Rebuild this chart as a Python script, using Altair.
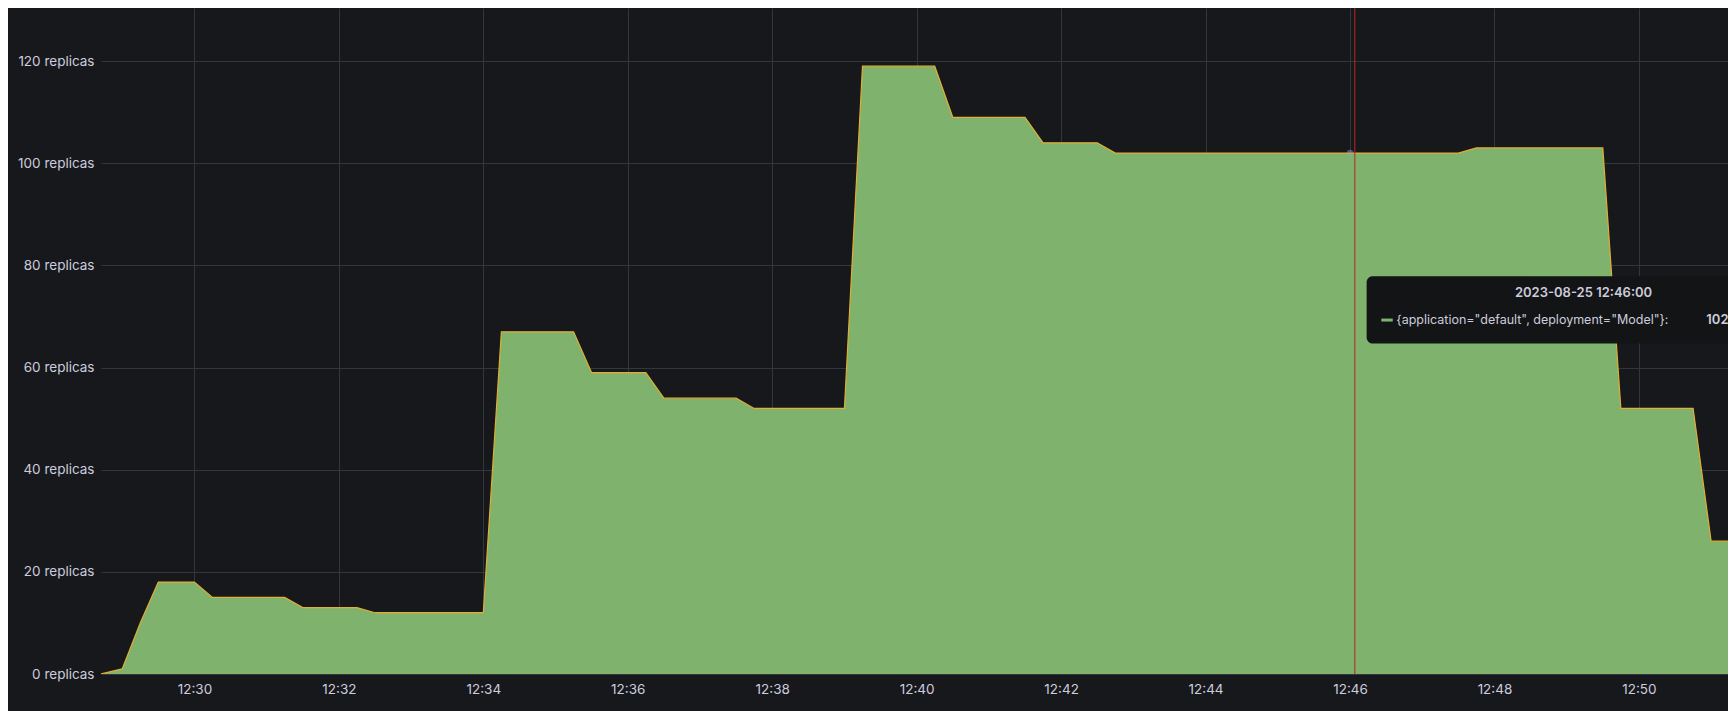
import altair as alt
import pandas as pd

DAY = "2023-08-25T"

# series: time of sample and replica count
times = [
    "12:28:42", "12:29:00", "12:29:15", "12:29:30", "12:30:00", "12:30:15",
    "12:31:15", "12:31:30", "12:32:15", "12:32:30", "12:34:00", "12:34:15",
    "12:35:15", "12:35:30", "12:36:15", "12:36:30", "12:37:30", "12:37:45",
    "12:39:00", "12:39:15", "12:40:15", "12:40:30", "12:41:30", "12:41:45",
    "12:42:30", "12:42:45", "12:47:30", "12:47:45", "12:49:30", "12:49:45",
    "12:50:45", "12:51:00", "12:51:21",
]
replicas = [
    0, 1, 10, 18, 18, 15,
    15, 13, 13, 12, 12, 67,
    67, 59, 59, 54, 54, 52,
    52, 119, 119, 109, 109, 104,
    104, 102, 102, 103, 103, 52,
    52, 26, 26,
]

y_ticks = [0, 20, 40, 60, 80, 100, 120]
x_tick_minutes = [30, 32, 34, 36, 38, 40, 42, 44, 46, 48, 50]

# hover / tooltip annotation
hover_time = "12:46:04"
point_time = "12:46:00"
point_value = 102
tooltip_title = "2023-08-25 12:46:00"
tooltip_series = '{application="default", deployment="Model"}:'
tooltip_value = "102"


def ts(s):
    return DAY + s + "Z"


def dt(h, m, s=0, ms=0):
    return alt.DateTime(year=2023, month=8, date=25, hours=h, minutes=m,
                        seconds=s, milliseconds=ms, utc=True)


df = pd.DataFrame({"t": [ts(s) for s in times], "v": replicas})

x_scale = alt.Scale(type="utc", domain=[dt(12, 28, 42, 400), dt(12, 51, 14, 0)], nice=False)
y_scale = alt.Scale(domain=[0, 130.4], nice=False, zero=True)

x_axis = alt.Axis(
    title=None,
    format="%H:%M",
    formatType="utc",
    values=[dt(12, m) for m in x_tick_minutes],
    labelFlush=False,
    labelOverlap=False,
    ticks=False,
    domain=False,
    labelPadding=8,
    labelBaseline="top",
)
y_axis = alt.Axis(
    title=None,
    values=y_ticks,
    labelExpr="datum.value + ' replicas'",
    ticks=False,
    domain=False,
    labelPadding=7,
)

X = alt.X("t:T", scale=x_scale, axis=x_axis)
Y = alt.Y("v:Q", scale=y_scale, axis=y_axis)

GREEN = "#7EB26D"
LINE = "#E2AE34"
TEXT = "#ccccdc"

area = alt.Chart(df).mark_area(color=GREEN, opacity=1, clip=True).encode(x=X, y=Y)
line = alt.Chart(df).mark_line(color=LINE, strokeWidth=1.2, clip=True).encode(x=X, y=Y)

cross = alt.Chart(pd.DataFrame({"t": [ts(hover_time)]})).mark_rule(
    color="#b8271f", strokeWidth=1
).encode(x="t:T")

hover_pt = alt.Chart(pd.DataFrame({"t": [ts(point_time)], "v": [point_value]})).mark_point(
    filled=True, color="#9aa3ad", opacity=0.45, size=45
).encode(x="t:T", y="v:Q")

tip_box = alt.Chart(
    pd.DataFrame({"t": [ts("12:46:13.800")], "t2": [ts("12:52:30")], "v": [64.7], "v2": [77.9]})
).mark_rect(color="#131416", cornerRadius=6, clip=True).encode(
    x="t:T", x2="t2:T", y="v:Q", y2="v2:Q"
)

tip_title = alt.Chart(
    pd.DataFrame({"t": [ts("12:49:14")], "v": [74.6], "s": [tooltip_title]})
).mark_text(
    font="Inter", fontSize=13, fontWeight=600, color=TEXT, align="center", baseline="middle", clip=True
).encode(x="t:T", y="v:Q", text="s:N")

tip_dash = alt.Chart(
    pd.DataFrame({"t": [ts("12:46:26")], "t2": [ts("12:46:35.500")], "v": [69.3]})
).mark_rule(color=GREEN, strokeWidth=3).encode(x="t:T", x2="t2:T", y="v:Q")

tip_series = alt.Chart(
    pd.DataFrame({"t": [ts("12:46:38.500")], "v": [69.3], "s": [tooltip_series]})
).mark_text(
    font="Inter", fontSize=12.5, color=TEXT, align="left", baseline="middle", clip=True
).encode(x="t:T", y="v:Q", text="s:N")

tip_value = alt.Chart(
    pd.DataFrame({"t": [ts("12:50:56")], "v": [69.3], "s": [tooltip_value]})
).mark_text(
    font="Inter", fontSize=13, fontWeight=600, color=TEXT, align="left", baseline="middle", clip=True
).encode(x="t:T", y="v:Q", text="s:N")

chart = (
    alt.layer(area, line, cross, hover_pt, tip_box, tip_title, tip_dash, tip_series, tip_value)
    .properties(
        width=1627,
        height=666,
        autosize=alt.AutoSizeParams(type="none"),
        padding={"left": 93, "top": 0, "right": 0, "bottom": 37},
        background="#17181c",
    )
    .configure_view(stroke=None, fill="#17181c")
    .configure_axis(
        labelFont="Inter",
        labelFontSize=13.5,
        labelColor=TEXT,
        gridColor="#34363b",
        gridWidth=1,
        gridOpacity=1,
    )
)

chart.save("out.html", embed_options={"renderer": "svg", "actions": False})
